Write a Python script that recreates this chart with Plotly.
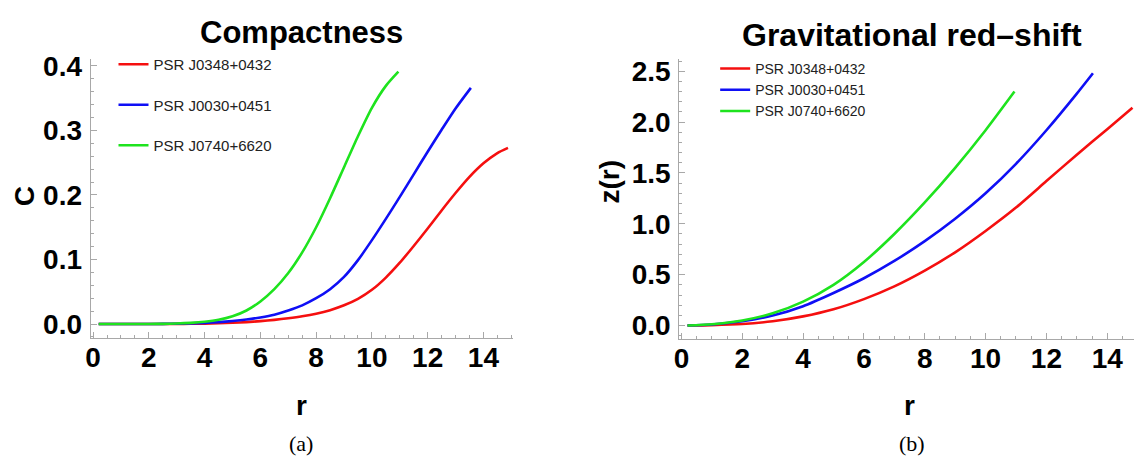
import plotly.graph_objects as go

# ---------------- data ----------------
names = ["PSR J0348+0432", "PSR J0030+0451", "PSR J0740+6620"]
colors = ["#F50F0F", "#0F0FF5", "#1EE31E"]

# Compactness C(r)
r_c_red = [0.2, 1, 1.5, 2, 2.5, 3, 3.5, 4, 4.5, 5, 5.5, 6, 6.5, 7, 7.5, 8, 8.5, 9, 9.5, 10,
           10.5, 11, 11.5, 12, 12.5, 13, 13.5, 14, 14.5, 14.88]
c_red = [0, 0, 0, 0, 0.0001, 0.0002, 0.0004, 0.0007, 0.0012, 0.002, 0.003, 0.0045, 0.0065, 0.009,
         0.012, 0.016, 0.0215, 0.029, 0.039, 0.053, 0.072, 0.095, 0.121, 0.148, 0.176, 0.203,
         0.228, 0.249, 0.265, 0.273]

r_c_blue = [0.2, 1, 1.5, 2, 2.5, 3, 3.5, 4, 4.5, 5, 5.5, 6, 6.5, 7, 7.5, 8, 8.5, 9, 9.5, 10,
            10.5, 11, 11.5, 12, 12.5, 13, 13.55]
c_blue = [0, 0, 0, 0.0001, 0.0002, 0.0005, 0.001, 0.0018, 0.003, 0.0047, 0.007, 0.0102, 0.0145,
          0.021, 0.029, 0.040, 0.054, 0.073, 0.099, 0.130, 0.163, 0.197, 0.232, 0.267, 0.301,
          0.334, 0.366]

r_c_green = [0.2, 1, 1.5, 2, 2.5, 3, 3.5, 4, 4.5, 5, 5.5, 6, 6.5, 7, 7.5, 8, 8.5, 9, 9.5, 10,
             10.5, 10.95]
c_green = [0, 0, 0, 0.0001, 0.0003, 0.0008, 0.0018, 0.0035, 0.0065, 0.012, 0.021, 0.035, 0.054,
           0.079, 0.111, 0.150, 0.195, 0.243, 0.291, 0.335, 0.369, 0.391]

# Gravitational red-shift z(r)
r_z_red = [0.2, 1, 2, 3, 4, 5, 6, 7, 8, 9, 10, 11, 12, 13, 14, 14.83]
z_red = [0.0005, 0.004, 0.015, 0.042, 0.09, 0.16, 0.26, 0.385, 0.54, 0.72, 0.93, 1.16, 1.42,
         1.68, 1.93, 2.14]

r_z_blue = [0.2, 1, 2, 3, 4, 5, 6, 7, 8, 9, 10, 11, 12, 13, 13.53]
z_blue = [0.001, 0.01, 0.042, 0.098, 0.19, 0.32, 0.465, 0.635, 0.83, 1.05, 1.30, 1.59, 1.92,
          2.28, 2.48]

r_z_green = [0.2, 1, 2, 3, 4, 5, 6, 7, 8, 9, 10, 10.95]
z_green = [0.001, 0.013, 0.05, 0.12, 0.235, 0.40, 0.625, 0.90, 1.21, 1.55, 1.92, 2.30]

# ---------------- figure ----------------
fig = go.Figure()

left_sets = [(r_c_red, c_red), (r_c_blue, c_blue), (r_c_green, c_green)]
right_sets = [(r_z_red, z_red), (r_z_blue, z_blue), (r_z_green, z_green)]

for i, (xs, ys) in enumerate(left_sets):
    fig.add_trace(go.Scatter(
        x=xs, y=ys, mode="lines", name=names[i],
        line=dict(color=colors[i], width=2.6, shape="spline", smoothing=0.7),
        xaxis="x", yaxis="y", legend="legend", legendgroup="L%d" % i,
    ))
for i, (xs, ys) in enumerate(right_sets):
    fig.add_trace(go.Scatter(
        x=xs, y=ys, mode="lines", name=names[i],
        line=dict(color=colors[i], width=2.6, shape="spline", smoothing=0.7),
        xaxis="x2", yaxis="y2", legend="legend2", legendgroup="R%d" % i,
    ))

tick_font = dict(family="Liberation Sans, Arial, sans-serif", size=28, color="black", weight="bold")
axis_common = dict(
    showline=True, linecolor="#A8A8A8", linewidth=1,
    ticks="inside", ticklen=6, tickcolor="#A8A8A8", tickwidth=1,
    showgrid=False, zeroline=False, tickfont=tick_font,
)

fig.update_layout(
    width=1134, height=459, autosize=False,
    margin=dict(l=0, r=0, t=0, b=0),
    paper_bgcolor="white", plot_bgcolor="white",
    xaxis=dict(domain=[0.0750, 0.4497], range=[-0.09, 15.07], anchor="y",
               dtick=2, tick0=0, ticklabelstandoff=-6,
               minor=dict(dtick=0.5, ticks="inside", ticklen=3, tickcolor="#A8A8A8"),
               **axis_common),
    yaxis=dict(domain=[0.2651, 0.8874], range=[-0.022, 0.41], anchor="x",
               dtick=0.1, tick0=0, tickformat=".1f", ticklabelstandoff=2,
               minor=dict(dtick=0.02, ticks="inside", ticklen=3, tickcolor="#A8A8A8"),
               **axis_common),
    xaxis2=dict(domain=[0.5969, 1.0], range=[-0.07, 14.88], anchor="y2",
                dtick=2, tick0=0, ticklabelstandoff=-6,
                minor=dict(dtick=0.5, ticks="inside", ticklen=3, tickcolor="#A8A8A8"),
                **axis_common),
    yaxis2=dict(domain=[0.2630, 0.8874], range=[-0.134, 2.616], anchor="x2",
                dtick=0.5, tick0=0, tickformat=".1f", ticklabelstandoff=2,
                minor=dict(dtick=0.1, ticks="inside", ticklen=3, tickcolor="#A8A8A8"),
                **axis_common),
    legend=dict(x=0.0953, y=0.9129, xanchor="left", yanchor="top",
                font=dict(family="Liberation Sans, Arial, sans-serif", size=15, color="#222"),
                bgcolor="rgba(0,0,0,0)", tracegroupgap=18, traceorder="grouped"),
    legend2=dict(x=0.6287, y=0.9019, xanchor="left", yanchor="top",
                 font=dict(family="Liberation Sans, Arial, sans-serif", size=14, color="#222"),
                 bgcolor="rgba(0,0,0,0)", tracegroupgap=0, traceorder="grouped"),
    showlegend=True,
)

title_font_l = dict(family="Liberation Sans, Arial, sans-serif", size=31, color="black", weight="bold")
title_font_r = dict(family="Liberation Sans, Arial, sans-serif", size=32, color="black", weight="bold")
label_font = dict(family="Liberation Sans, Arial, sans-serif", size=28, color="black", weight="bold")
cap_font = dict(family="Liberation Serif, Times New Roman, serif", size=22, color="black")

annotations = [
    dict(text="Compactness", x=0.2619, y=0.9477, font=title_font_l),
    dict(text="Gravitational red\u2013shift", x=0.8034, y=0.9412, font=title_font_r),
    dict(text="C", x=0.0159, y=0.5817, font=label_font, textangle=-90),
    dict(text="z(r)", x=0.5353, y=0.6144, font=label_font, textangle=-90),
    dict(text="r", x=0.2619, y=0.1139, font=label_font),
    dict(text="r", x=0.8014, y=0.1155, font=label_font),
    dict(text="(a)", x=0.2619, y=0.0305, font=cap_font),
    dict(text="(b)", x=0.8030, y=0.0305, font=cap_font),
]
for a in annotations:
    a.update(xref="paper", yref="paper", xanchor="center", yanchor="middle", showarrow=False)
fig.update_layout(annotations=annotations)

fig.write_html("out.html", config={"displayModeBar": False},
               post_script="document.body.style.margin='0';")
